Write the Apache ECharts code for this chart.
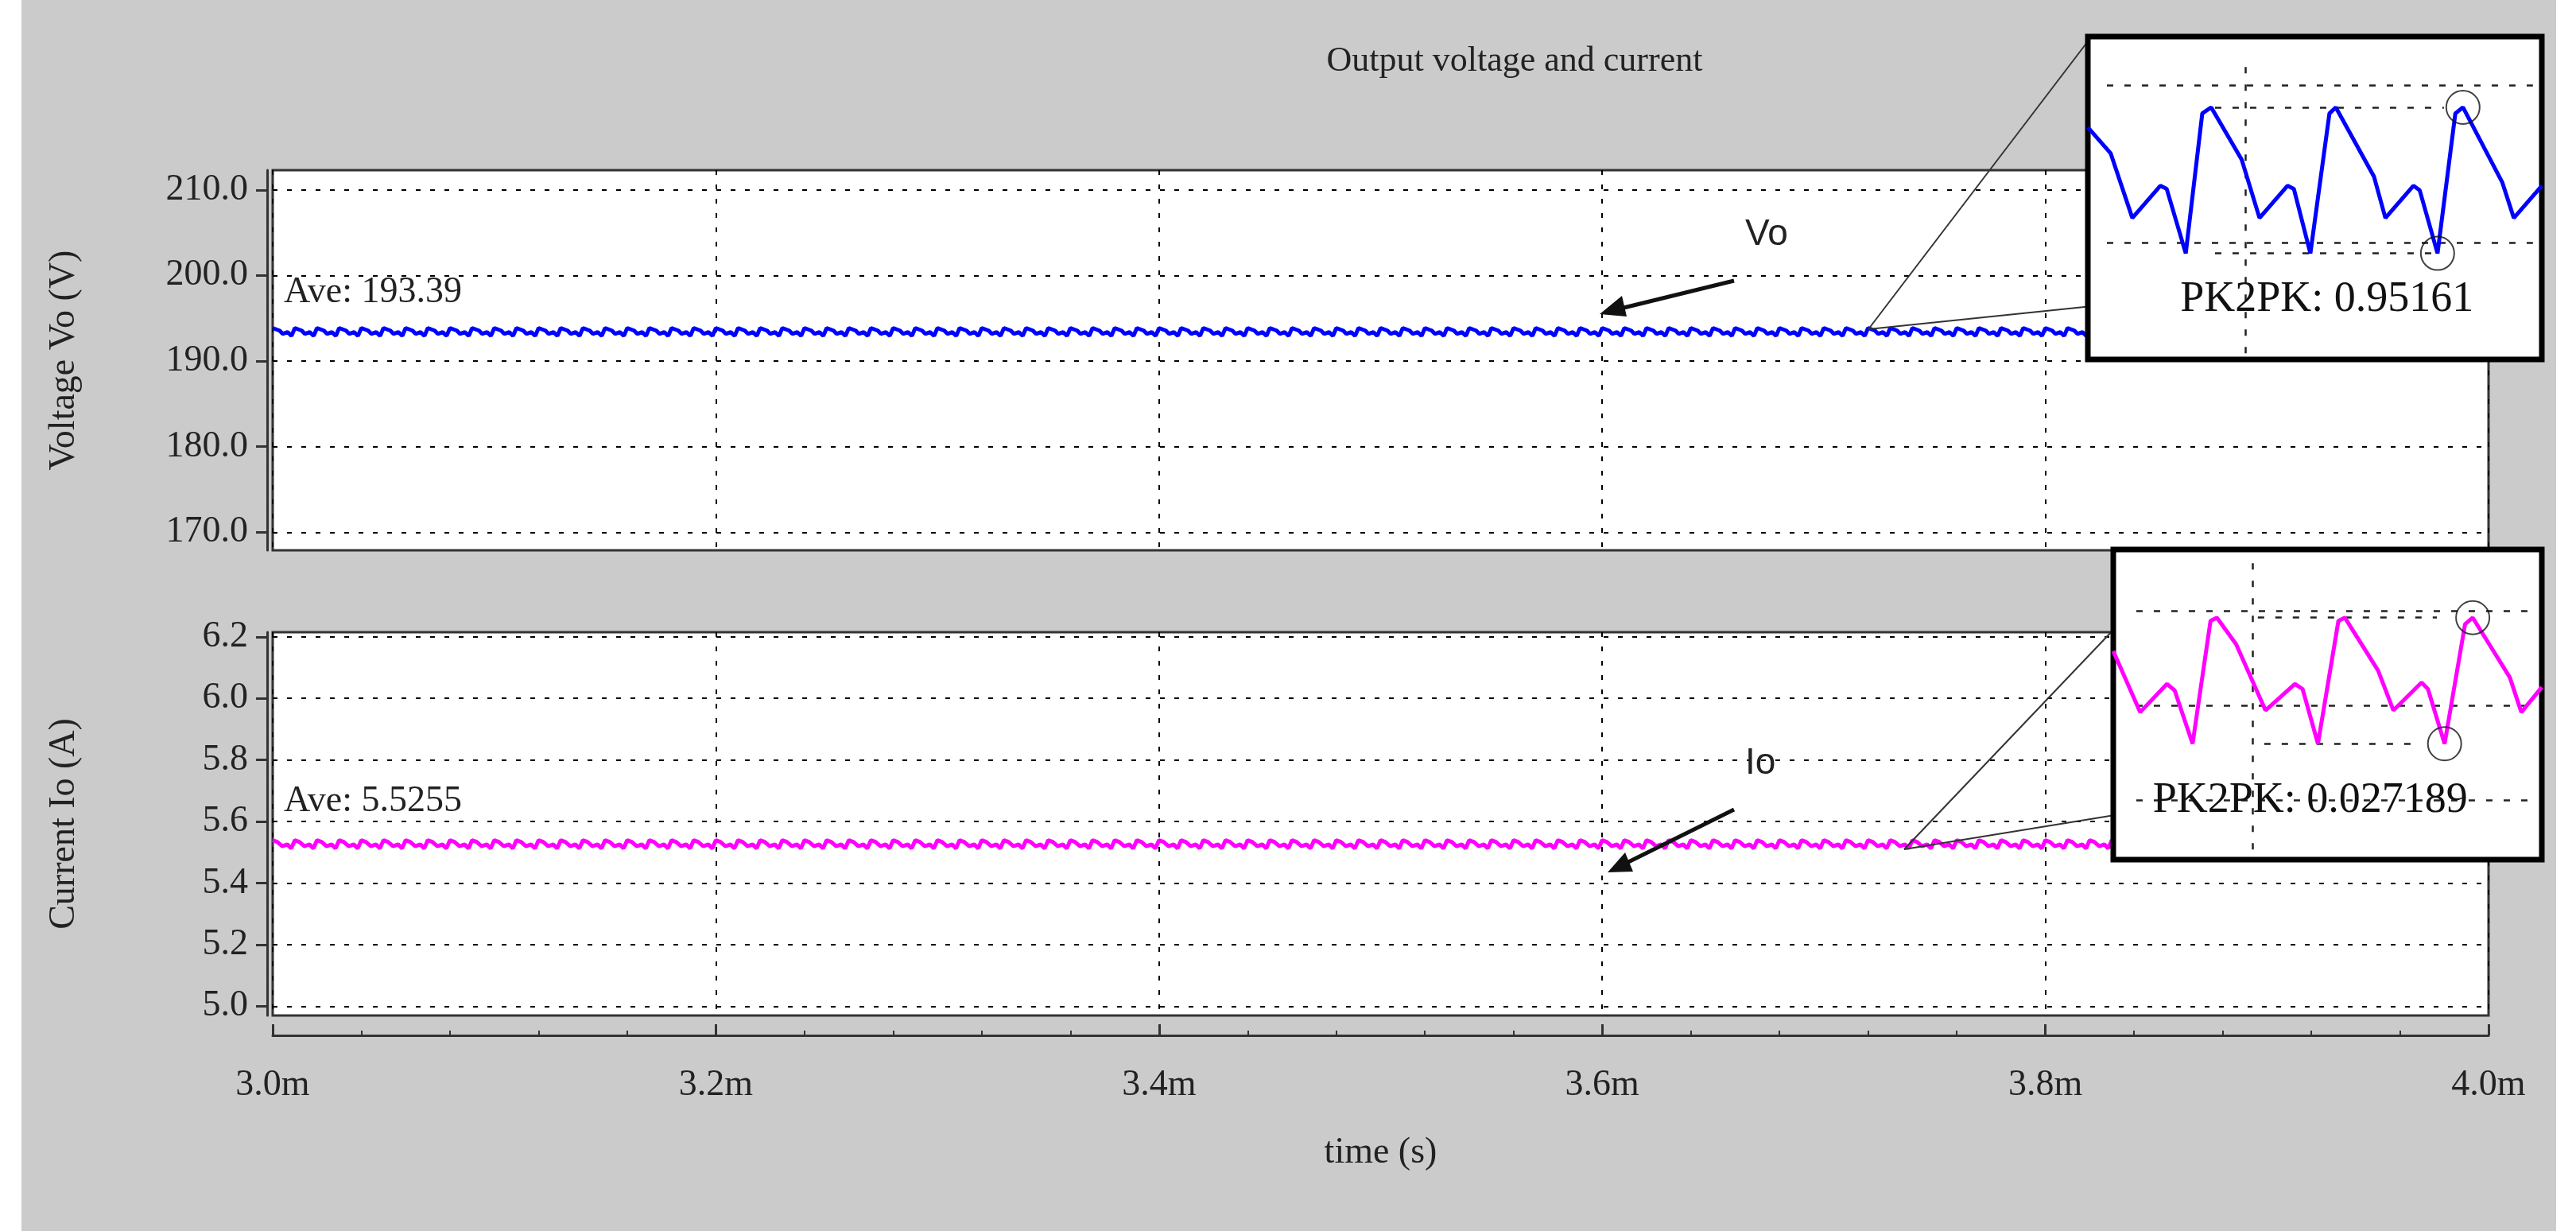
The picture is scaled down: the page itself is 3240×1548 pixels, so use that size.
<!DOCTYPE html>
<html><head><meta charset="utf-8">
<script src="https://cdn.jsdelivr.net/npm/echarts@6/dist/echarts.min.js"></script>
<style>html,body{margin:0;padding:0;background:#fff}#c{width:3240px;height:1548px}</style>
</head><body><div id="c"></div>
<script>
// ---- data ----
const xTicks = [3.0, 3.2, 3.4, 3.6, 3.8, 4.0];          // ms
const vTicks = [170, 180, 190, 200, 210];
const iTicks = [5.0, 5.2, 5.4, 5.6, 5.8, 6.0, 6.2];
// one ripple period (10 us) of Vo and Io: [t(us), value]
const voCycle = [[0,193.86],[0.7,193.90],[3.1,193.56],[4.5,193.18],[6.7,193.39],[7.2,193.37],[8.5,192.95]];
const ioCycle = [[0,5.5393],[0.5,5.5400],[2.0,5.5343],[4.3,5.5200],[6.6,5.5257],[7.2,5.5246],[8.4,5.5128]];
const ripplePeriodUs = 10;
// inset waveforms (arbitrary time units)
const voInsetX = [1.5,3.3,5.0,7.2,7.7,9.2,10.5,11.2,13.6,15.0,17.2,17.7,19.0,20.5,21.0,24.0,24.9,27.1,27.6,29.0,30.4,31.0,34.1,35.0,37.2];
const voInsetY = [193.77,193.60,193.18,193.39,193.37,192.95,193.86,193.90,193.56,193.18,193.39,193.37,192.95,193.86,193.90,193.45,193.18,193.39,193.36,192.95,193.86,193.90,193.41,193.18,193.39];
const ioInsetX = [3.7,5.8,7.9,8.5,9.9,11.3,11.8,13.3,15.6,17.9,18.5,19.7,21.3,21.8,24.4,25.6,27.8,28.3,29.6,31.2,31.8,34.7,35.6,37.2];
const ioInsetY = [5.5328,5.5196,5.5257,5.5243,5.5128,5.5393,5.5400,5.5343,5.5200,5.5257,5.5246,5.5128,5.5393,5.5400,5.5286,5.5200,5.5260,5.5246,5.5128,5.5386,5.5400,5.5271,5.5196,5.5250];
const voAve = 193.39, ioAve = 5.5255;
const voPk = 0.95161, ioPk = 0.027189;

function repeatCycle(cycle){
  const out=[];
  for(let k=0;k<100;k++){
    for(const [t,v] of cycle){ out.push([3.0 + (k*ripplePeriodUs + t)/1000, v]); }
  }
  out.push([4.0, cycle[0][1]]);
  return out;
}
const zip=(a,b)=>a.map((x,i)=>[x,b[i]]);

const F='Liberation Serif';
const FS=46;
const dash={color:'#000',type:[6,12],width:2};
const dashIn={color:'#222',type:[8,14],width:2.5};
function yAx(gi,min,max,ticks,name){
  return {gridIndex:gi,type:'value',min,max,name,nameLocation:'middle',nameGap:232,
    nameTextStyle:{fontFamily:F,fontSize:46,color:'#222'},
    offset:7,axisLine:{show:true,lineStyle:{color:'#333',width:3}},
    axisTick:{show:true,length:14,customValues:ticks,lineStyle:{color:'#333',width:3}},
    axisLabel:{customValues:ticks,fontFamily:F,fontSize:FS,color:'#222',margin:24,formatter:v=>v.toFixed(1)},
    splitLine:{show:true,lineStyle:dash}};
}
function mainX(gi,show){
  return {gridIndex:gi,type:'value',min:3.0,max:4.0,interval:0.2,
    offset:show?25:0,
    axisLine:{show:show,lineStyle:{color:'#333',width:3}},
    axisTick:{show:show,inside:true,length:14,lineStyle:{color:'#333',width:3}},
    minorTick:{show:show,splitNumber:5,length:6,lineStyle:{color:'#333',width:2}},
    axisLabel:{show:show,fontFamily:F,fontSize:FS,color:'#222',margin:40,formatter:v=>v.toFixed(1)+'m'},
    name:show?'time (s)':'',nameLocation:'middle',nameGap:125,nameTextStyle:{fontFamily:F,fontSize:FS,color:'#222'},
    splitLine:{show:true,lineStyle:dash}};
}
function insetX(gi,min,max){return {gridIndex:gi,type:'value',min,max,show:false};}
function insetY(gi,min,max){return {gridIndex:gi,type:'value',min,max,show:false};}
function ml(y,x0,x1){return [{coord:[x0,y]},{coord:[x1,y]}];}
function mlv(x,y0,y1){return [{coord:[x,y0]},{coord:[x,y1]}];}

const option={
  backgroundColor:'#fff',animation:false,
  title:{text:'Output voltage and current',left:1900,top:50,textAlign:'center',
    textStyle:{fontFamily:F,fontSize:44,fontWeight:'normal',color:'#222'}},
  grid:[
    {left:343,width:2787,top:214,height:478,show:true,backgroundColor:'#fff',borderColor:'#333',borderWidth:3},
    {left:343,width:2787,top:795,height:482,show:true,backgroundColor:'#fff',borderColor:'#333',borderWidth:3},
    {left:2626,width:571,top:46,height:406,show:true,backgroundColor:'#fff',borderColor:'#000',borderWidth:7,z:10},
    {left:2658,width:539,top:691,height:390,show:true,backgroundColor:'#fff',borderColor:'#000',borderWidth:7,z:10}
  ],
  xAxis:[mainX(0,false),mainX(1,true),insetX(2,1.5,37.2),insetX(3,3.7,37.2)],
  yAxis:[yAx(0,167.9,212.3,vTicks,'Voltage Vo (V)'),yAx(1,4.97,6.215,iTicks,'Current Io (A)'),
    insetY(2,192.26,194.36),insetY(3,5.4878,5.5547)],
  graphic:[
    {type:'rect',z:-10,shape:{x:27,y:0,width:3188,height:1548},style:{fill:'#cbcbcb'}},
    {type:'text',z:5,left:357,top:345,style:{text:'Ave: '+voAve,font:'46px "Liberation Serif"',fill:'#222'}},
    {type:'text',z:5,left:357,top:985,style:{text:'Ave: '+ioAve,font:'46px "Liberation Serif"',fill:'#222'}},
    {type:'text',z:5,left:2195,top:272,style:{text:'Vo',font:'46px "Liberation Sans"',fill:'#222'}},
    {type:'text',z:5,left:2195,top:937,style:{text:'Io',font:'46px "Liberation Sans"',fill:'#222'}},
    {type:'line',z:5,shape:{x1:2181,y1:353,x2:2030,y2:390},style:{stroke:'#111',lineWidth:5}},
    {type:'polygon',z:5,shape:{points:[[2012,395],[2040,372],[2046,398]]},style:{fill:'#111'}},
    {type:'line',z:5,shape:{x1:2181,y1:1018,x2:2040,y2:1088},style:{stroke:'#111',lineWidth:5}},
    {type:'polygon',z:5,shape:{points:[[2022,1097],[2044,1072],[2054,1096]]},style:{fill:'#111'}},
    {type:'line',z:3,shape:{x1:2350,y1:414,x2:2626,y2:52},style:{stroke:'#333',lineWidth:2}},
    {type:'line',z:3,shape:{x1:2350,y1:414,x2:2680,y2:380},style:{stroke:'#333',lineWidth:2}},
    {type:'line',z:3,shape:{x1:2395,y1:1068,x2:2660,y2:790},style:{stroke:'#333',lineWidth:2}},
    {type:'line',z:3,shape:{x1:2395,y1:1068,x2:2660,y2:1025},style:{stroke:'#333',lineWidth:2}}
  ],
  series:[
    {type:'line',xAxisIndex:0,yAxisIndex:0,data:repeatCycle(voCycle),showSymbol:false,z:2,lineStyle:{color:'#0000ff',width:5}},
    {type:'line',xAxisIndex:1,yAxisIndex:1,data:repeatCycle(ioCycle),showSymbol:false,z:2,lineStyle:{color:'#ff00ff',width:5}},
    {type:'line',xAxisIndex:2,yAxisIndex:2,data:zip(voInsetX,voInsetY),showSymbol:false,z:12,
      lineStyle:{color:'#0000ff',width:5},
      markLine:{silent:true,symbol:'none',label:{show:false},lineStyle:dashIn,z:11,data:[
        ml(194.045,3,36.5),ml(193.02,3,36.5),ml(193.90,11.5,29.5),ml(192.95,11.5,29.0),mlv(13.9,192.3,194.2)]}},
    {type:'line',xAxisIndex:2,yAxisIndex:2,data:[],z:13,
      markLine:{silent:true,symbol:['arrow','arrow'],symbolSize:[16,28],label:{show:false},lineStyle:{color:'#000',type:'solid',width:2},
        data:[mlv(15.4,193.90,192.95)]}},
    {type:'scatter',xAxisIndex:2,yAxisIndex:2,data:[[31.0,193.90],[29.0,192.95]],symbol:'circle',symbolSize:42,z:13,
      itemStyle:{color:'rgba(0,0,0,0)',borderColor:'#111',borderWidth:2}},
    {type:'line',xAxisIndex:3,yAxisIndex:3,data:zip(ioInsetX,ioInsetY),showSymbol:false,z:12,
      lineStyle:{color:'#ff00ff',width:5},
      markLine:{silent:true,symbol:'none',label:{show:false},lineStyle:dashIn,z:11,data:[
        ml(5.5414,5.5,36.5),ml(5.5210,5.5,36.5),ml(5.5006,5.5,36.5),ml(5.5400,15,29),ml(5.5128,15.5,27.5),mlv(14.6,5.490,5.553)]}},
    {type:'line',xAxisIndex:3,yAxisIndex:3,data:[],z:13,
      markLine:{silent:true,symbol:['arrow','arrow'],symbolSize:[16,28],label:{show:false},lineStyle:{color:'#000',type:'solid',width:2},
        data:[mlv(13.9,5.5400,5.5128)]}},
    {type:'scatter',xAxisIndex:3,yAxisIndex:3,data:[[31.8,5.5400],[29.6,5.5128]],symbol:'circle',symbolSize:42,z:13,
      itemStyle:{color:'rgba(0,0,0,0)',borderColor:'#111',borderWidth:2}}
  ]
};
const chart=echarts.init(document.getElementById('c'));
chart.setOption(option);
const p1=chart.convertToPixel({xAxisIndex:2,yAxisIndex:2},[20.3,192.65]);
const p2=chart.convertToPixel({xAxisIndex:3,yAxisIndex:3},[19.1,5.5006]);
chart.setOption({graphic:option.graphic.concat([
  {type:'text',z:20,x:p1[0],y:p1[1],style:{text:'PK2PK: '+voPk,font:'54px "Liberation Serif"',fill:'#111',align:'center',verticalAlign:'middle'}},
  {type:'text',z:20,x:p2[0],y:p2[1],style:{text:'PK2PK: '+ioPk,font:'54px "Liberation Serif"',fill:'#111',align:'center',verticalAlign:'middle'}}
])});
</script></body></html>
